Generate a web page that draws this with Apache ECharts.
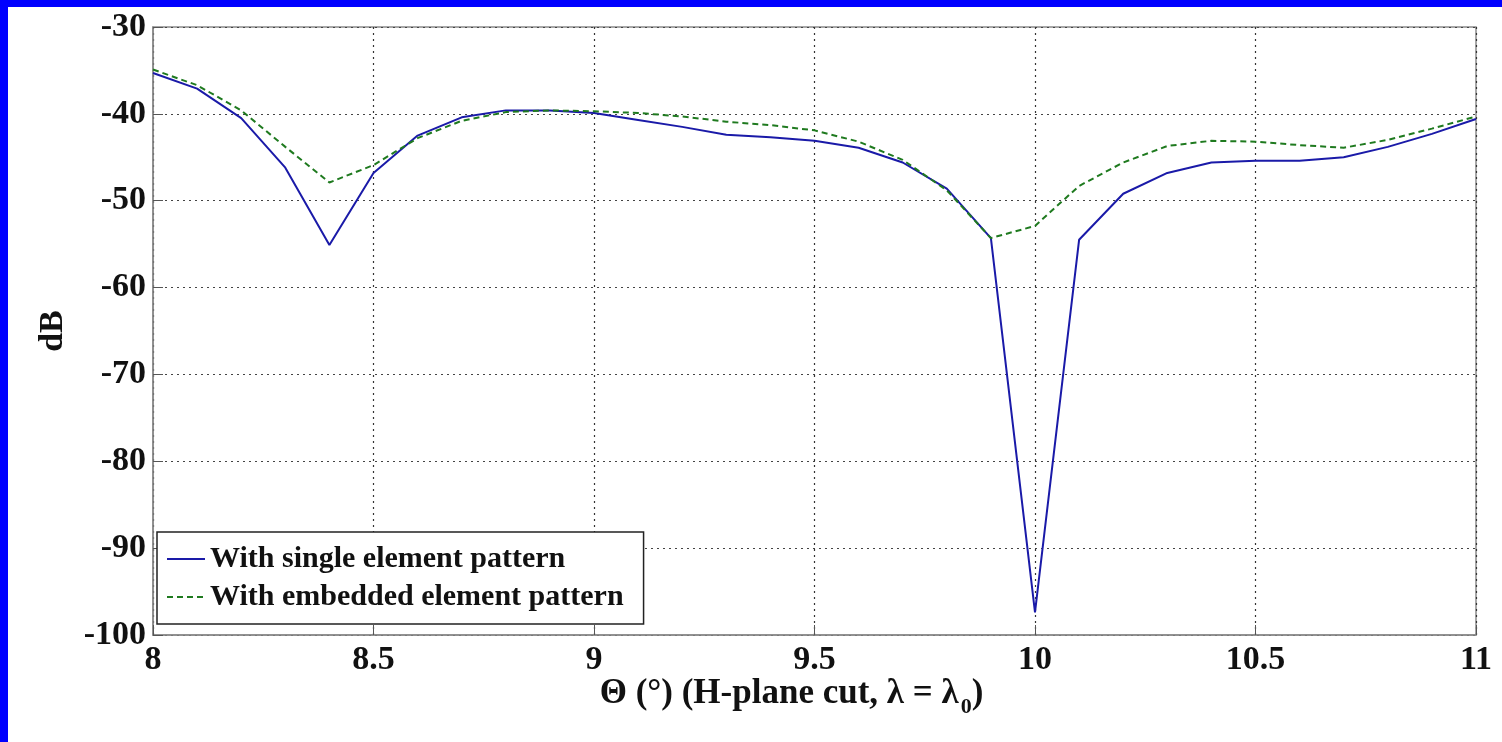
<!DOCTYPE html>
<html>
<head>
<meta charset="utf-8">
<script src="https://cdn.jsdelivr.net/npm/echarts@6/dist/echarts.min.js"></script>
<style>
  html, body { margin: 0; padding: 0; background: #fff; }
  #chart { width: 1502px; height: 742px; }
</style>
</head>
<body>
<div id="chart"></div>
<script>
// angle samples (deg)
var theta = [8.0, 8.1, 8.2, 8.3, 8.4, 8.5, 8.6, 8.7, 8.8, 8.9,
             9.0, 9.1, 9.2, 9.3, 9.4, 9.5, 9.6, 9.7, 9.8, 9.9,
             10.0, 10.1, 10.2, 10.3, 10.4, 10.5, 10.6, 10.7, 10.8, 10.9, 11.0];

// with single element pattern (dB)
var singleDb = [-35.3, -37.1, -40.5, -46.2, -55.1, -46.8, -42.5, -40.4, -39.6, -39.6,
                -39.9, -40.7, -41.5, -42.4, -42.7, -43.1, -43.9, -45.6, -48.6, -54.3,
                -97.4, -54.5, -49.2, -46.8, -45.6, -45.4, -45.4, -45.0, -43.8, -42.3, -40.6];

// with embedded element pattern (dB)
var embeddedDb = [-34.9, -36.7, -39.6, -43.8, -47.9, -45.9, -42.8, -40.8, -39.8, -39.6,
                  -39.7, -39.9, -40.3, -40.9, -41.3, -41.9, -43.2, -45.3, -48.8, -54.3,
                  -52.9, -48.3, -45.6, -43.7, -43.1, -43.2, -43.6, -43.9, -43.0, -41.7, -40.3];

var yTicks = { min: -100, max: -30, step: 10 };
var xTicks = { min: 8, max: 11, step: 0.5 };

function pairs(xs, ys) {
    var out = [];
    for (var i = 0; i < xs.length; i++) {
        out.push([xs[i], ys[i]]);
    }
    return out;
}

var serif = '"Liberation Serif", "Times New Roman", serif';
var chart = echarts.init(document.getElementById('chart'));

chart.setOption({
    animation: false,
    backgroundColor: '#fff',
    graphic: [
        { type: 'rect', left: 0, top: 0, shape: { width: 1502, height: 7 }, style: { fill: '#0000ff' } },
        { type: 'rect', left: 0, top: 0, shape: { width: 8, height: 742 }, style: { fill: '#0000ff' } }
    ],
    grid: {
        left: 153, top: 27, width: 1323, height: 608,
        show: true, borderColor: '#8a8a8a', borderWidth: 1.5, backgroundColor: 'transparent'
    },
    legend: {
        orient: 'vertical',
        left: 157, top: 532,
        padding: [12, 20, 12, 9],
        itemGap: 8,
        itemWidth: 38, itemHeight: 14,
        backgroundColor: '#fff',
        borderColor: '#222', borderWidth: 1.5,
        itemStyle: { opacity: 0 },
        textStyle: { fontFamily: serif, fontWeight: 'bold', fontSize: 30, color: '#111' },
        data: ['With single element pattern', 'With embedded element pattern']
    },
    xAxis: {
        type: 'value',
        min: xTicks.min, max: xTicks.max, interval: xTicks.step,
        name: '{a|Θ (°) (H-plane cut, λ = λ}{sub|0}{a|)}',
        nameLocation: 'middle',
        nameGap: 35,
        nameMoveOverlap: false,
        nameTextStyle: {
            padding: [0, 46, 0, 0],
            rich: {
                a: { fontFamily: serif, fontWeight: 'bold', fontSize: 35, color: '#111' },
                sub: { fontFamily: serif, fontWeight: 'bold', fontSize: 22, color: '#111', padding: [26, 0, 0, 2] }
            }
        },
        axisLine: { show: true, lineStyle: { color: '#8a8a8a', width: 1.5 } },
        axisTick: { show: true, inside: true, length: 10, lineStyle: { color: '#555' } },
        axisLabel: { fontFamily: serif, fontWeight: 'bold', fontSize: 34, color: '#111', margin: 8 },
        splitLine: { show: true, lineStyle: { color: '#333', type: [2, 4], width: 1.2 } }
    },
    yAxis: {
        type: 'value',
        min: yTicks.min, max: yTicks.max, interval: yTicks.step,
        name: 'dB',
        nameLocation: 'middle',
        nameGap: 83,
        nameMoveOverlap: false,
        nameRotate: 90,
        nameTextStyle: { fontFamily: serif, fontWeight: 'bold', fontSize: 34, color: '#111' },
        axisLine: { show: true, lineStyle: { color: '#8a8a8a', width: 1.5 } },
        axisTick: { show: true, inside: true, length: 10, lineStyle: { color: '#555' } },
        axisLabel: { fontFamily: serif, fontWeight: 'bold', fontSize: 34, color: '#111', margin: 7 },
        splitLine: { show: true, lineStyle: { color: '#444', type: [2, 4], width: 1.2 } }
    },
    series: [
        {
            name: 'With single element pattern',
            type: 'line',
            symbol: 'none',
            data: pairs(theta, singleDb),
            lineStyle: { color: '#1a1aa8', width: 2 },
            itemStyle: { color: '#1a1aa8' },
            z: 3
        },
        {
            name: 'With embedded element pattern',
            type: 'line',
            symbol: 'none',
            data: pairs(theta, embeddedDb),
            lineStyle: { color: '#1f7a1f', width: 2, type: [6, 4] },
            itemStyle: { color: '#1f7a1f' },
            z: 4
        }
    ]
});
</script>
</body>
</html>
